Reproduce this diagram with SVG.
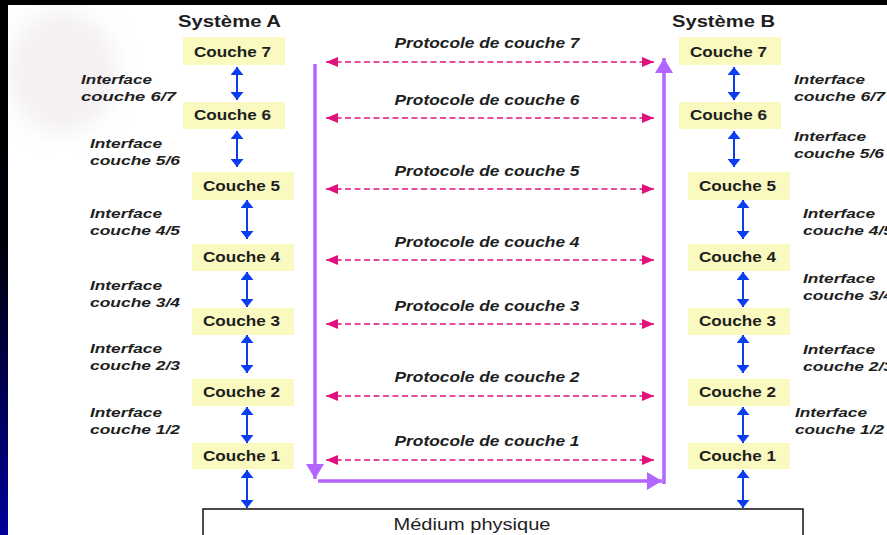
<svg xmlns="http://www.w3.org/2000/svg" width="887" height="535" viewBox="0 0 887 535">
  <defs>
    <linearGradient id="edgeGrad" x1="0" y1="0" x2="0" y2="1">
      <stop offset="0" stop-color="#000000"/>
      <stop offset="0.45" stop-color="#000008"/>
      <stop offset="1" stop-color="#00009a"/>
    </linearGradient>
    <filter id="soft" x="-50%" y="-50%" width="200%" height="200%">
      <feGaussianBlur stdDeviation="10"/>
    </filter>
    <marker id="blueHead" markerUnits="userSpaceOnUse" viewBox="0 0 8 13" markerWidth="8" markerHeight="13" refX="8" refY="6.5" orient="auto-start-reverse">
      <path d="M0,0 L8,6.5 L0,13 z" fill="#0a3cf0"/>
    </marker>
    <marker id="pinkHead" markerUnits="userSpaceOnUse" viewBox="0 0 12 10" markerWidth="12" markerHeight="10" refX="12" refY="5" orient="auto-start-reverse">
      <path d="M0,0 L12,5 L0,10 z" fill="#e0107c"/>
    </marker>
    <marker id="violetHead" markerUnits="userSpaceOnUse" viewBox="0 0 15 18" markerWidth="15" markerHeight="18" refX="15" refY="9" orient="auto">
      <path d="M0,0 L15,9 L0,18 z" fill="#b366ff"/>
    </marker>
  </defs>
  <style>
    .title { font-family: "Liberation Sans", Arial, sans-serif; font-weight: bold; font-size: 16px; fill: #1e1e1e; }
    .box { fill: #f9f9c0; }
    .layer { font-family: "Liberation Sans", Arial, sans-serif; font-weight: bold; font-size: 15px; fill: #1e1e1e; }
    .iface { font-family: "Liberation Sans", Arial, sans-serif; font-weight: bold; font-style: italic; font-size: 13.5px; fill: #1e1e1e; }
    .proto { font-family: "Liberation Sans", Arial, sans-serif; font-weight: bold; font-style: italic; font-size: 14px; fill: #1e1e1e; text-anchor: middle; }
    .medium { font-family: "Liberation Sans", Arial, sans-serif; font-size: 16px; fill: #1e1e1e; text-anchor: middle; }
    .blue { stroke: #0a3cf0; stroke-width: 2; fill: none; marker-start: url(#blueHead); marker-end: url(#blueHead); }
    .pink { stroke: #e0107c; stroke-width: 1.5; stroke-dasharray: 6 3.5; fill: none; marker-start: url(#pinkHead); marker-end: url(#pinkHead); }
    .violet { stroke: #b366ff; stroke-width: 3.5; fill: none; marker-end: url(#violetHead); }
  </style>

  <!-- page background and slide frame -->
  <rect x="0" y="0" width="887" height="535" fill="#ffffff"/>
  <ellipse cx="62" cy="72" rx="55" ry="62" fill="#f5f1f3" filter="url(#soft)"/>
  <rect x="0" y="0" width="887" height="5" fill="#000000"/>
  <rect x="0" y="0" width="8" height="535" fill="url(#edgeGrad)"/>

  <!-- system titles -->
  <text class="title" x="178" y="27" textLength="103" lengthAdjust="spacingAndGlyphs">Système A</text>
  <text class="title" x="672" y="27" textLength="103" lengthAdjust="spacingAndGlyphs">Système B</text>

  <!-- system A layers -->
  <g id="a-couche7"><rect class="box" x="183" y="37" width="102" height="28"/><text class="layer" x="194" y="57" textLength="77" lengthAdjust="spacingAndGlyphs">Couche 7</text></g>
  <g id="a-couche6"><rect class="box" x="183" y="102" width="102" height="27"/><text class="layer" x="194" y="120" textLength="77" lengthAdjust="spacingAndGlyphs">Couche 6</text></g>
  <g id="a-couche5"><rect class="box" x="192" y="172" width="102" height="28"/><text class="layer" x="203" y="191" textLength="77" lengthAdjust="spacingAndGlyphs">Couche 5</text></g>
  <g id="a-couche4"><rect class="box" x="192" y="244" width="102" height="27"/><text class="layer" x="203" y="262" textLength="77" lengthAdjust="spacingAndGlyphs">Couche 4</text></g>
  <g id="a-couche3"><rect class="box" x="192" y="308" width="102" height="27"/><text class="layer" x="203" y="326" textLength="77" lengthAdjust="spacingAndGlyphs">Couche 3</text></g>
  <g id="a-couche2"><rect class="box" x="192" y="379" width="102" height="27"/><text class="layer" x="203" y="397" textLength="77" lengthAdjust="spacingAndGlyphs">Couche 2</text></g>
  <g id="a-couche1"><rect class="box" x="192" y="443" width="102" height="26"/><text class="layer" x="203" y="461" textLength="77" lengthAdjust="spacingAndGlyphs">Couche 1</text></g>

  <!-- system B layers -->
  <g id="b-couche7"><rect class="box" x="679" y="37" width="102" height="28"/><text class="layer" x="690" y="57" textLength="77" lengthAdjust="spacingAndGlyphs">Couche 7</text></g>
  <g id="b-couche6"><rect class="box" x="679" y="102" width="102" height="27"/><text class="layer" x="690" y="120" textLength="77" lengthAdjust="spacingAndGlyphs">Couche 6</text></g>
  <g id="b-couche5"><rect class="box" x="688" y="172" width="102" height="28"/><text class="layer" x="699" y="191" textLength="77" lengthAdjust="spacingAndGlyphs">Couche 5</text></g>
  <g id="b-couche4"><rect class="box" x="688" y="244" width="102" height="27"/><text class="layer" x="699" y="262" textLength="77" lengthAdjust="spacingAndGlyphs">Couche 4</text></g>
  <g id="b-couche3"><rect class="box" x="688" y="308" width="102" height="27"/><text class="layer" x="699" y="326" textLength="77" lengthAdjust="spacingAndGlyphs">Couche 3</text></g>
  <g id="b-couche2"><rect class="box" x="688" y="379" width="102" height="27"/><text class="layer" x="699" y="397" textLength="77" lengthAdjust="spacingAndGlyphs">Couche 2</text></g>
  <g id="b-couche1"><rect class="box" x="688" y="443" width="102" height="26"/><text class="layer" x="699" y="461" textLength="77" lengthAdjust="spacingAndGlyphs">Couche 1</text></g>

  <!-- shared physical medium -->
  <g id="medium">
    <rect x="203" y="509" width="600" height="40" fill="#ffffff" stroke="#111111" stroke-width="1.5"/>
    <text class="medium" x="472" y="530" textLength="157" lengthAdjust="spacingAndGlyphs">Médium physique</text>
  </g>

  <!-- interface labels, system A -->
  <g id="a-interfaces">
    <text class="iface" x="81" y="84" textLength="71" lengthAdjust="spacingAndGlyphs">Interface</text>
    <text class="iface" x="81" y="101" textLength="95" lengthAdjust="spacingAndGlyphs">couche 6/7</text>
    <text class="iface" x="90" y="148" textLength="72" lengthAdjust="spacingAndGlyphs">Interface</text>
    <text class="iface" x="90" y="165" textLength="90" lengthAdjust="spacingAndGlyphs">couche 5/6</text>
    <text class="iface" x="90" y="218" textLength="72" lengthAdjust="spacingAndGlyphs">Interface</text>
    <text class="iface" x="90" y="235" textLength="90" lengthAdjust="spacingAndGlyphs">couche 4/5</text>
    <text class="iface" x="90" y="290" textLength="72" lengthAdjust="spacingAndGlyphs">Interface</text>
    <text class="iface" x="90" y="307" textLength="90" lengthAdjust="spacingAndGlyphs">couche 3/4</text>
    <text class="iface" x="90" y="353" textLength="72" lengthAdjust="spacingAndGlyphs">Interface</text>
    <text class="iface" x="90" y="370" textLength="90" lengthAdjust="spacingAndGlyphs">couche 2/3</text>
    <text class="iface" x="90" y="417" textLength="72" lengthAdjust="spacingAndGlyphs">Interface</text>
    <text class="iface" x="90" y="434" textLength="90" lengthAdjust="spacingAndGlyphs">couche 1/2</text>
  </g>

  <!-- interface labels, system B -->
  <g id="b-interfaces">
    <text class="iface" x="794" y="84" textLength="71" lengthAdjust="spacingAndGlyphs">Interface</text>
    <text class="iface" x="794" y="101" textLength="91" lengthAdjust="spacingAndGlyphs">couche 6/7</text>
    <text class="iface" x="794" y="141" textLength="72" lengthAdjust="spacingAndGlyphs">Interface</text>
    <text class="iface" x="794" y="158" textLength="90" lengthAdjust="spacingAndGlyphs">couche 5/6</text>
    <text class="iface" x="803" y="218" textLength="72" lengthAdjust="spacingAndGlyphs">Interface</text>
    <text class="iface" x="803" y="235" textLength="90" lengthAdjust="spacingAndGlyphs">couche 4/5</text>
    <text class="iface" x="803" y="283" textLength="72" lengthAdjust="spacingAndGlyphs">Interface</text>
    <text class="iface" x="803" y="300" textLength="90" lengthAdjust="spacingAndGlyphs">couche 3/4</text>
    <text class="iface" x="803" y="354" textLength="72" lengthAdjust="spacingAndGlyphs">Interface</text>
    <text class="iface" x="803" y="371" textLength="90" lengthAdjust="spacingAndGlyphs">couche 2/3</text>
    <text class="iface" x="795" y="417" textLength="72" lengthAdjust="spacingAndGlyphs">Interface</text>
    <text class="iface" x="795" y="434" textLength="89" lengthAdjust="spacingAndGlyphs">couche 1/2</text>
  </g>

  <!-- peer protocol labels -->
  <g id="protocols">
    <text class="proto" x="487" y="48" textLength="185" lengthAdjust="spacingAndGlyphs">Protocole de couche 7</text>
    <text class="proto" x="487" y="105" textLength="185" lengthAdjust="spacingAndGlyphs">Protocole de couche 6</text>
    <text class="proto" x="487" y="176" textLength="185" lengthAdjust="spacingAndGlyphs">Protocole de couche 5</text>
    <text class="proto" x="487" y="247" textLength="185" lengthAdjust="spacingAndGlyphs">Protocole de couche 4</text>
    <text class="proto" x="487" y="311" textLength="185" lengthAdjust="spacingAndGlyphs">Protocole de couche 3</text>
    <text class="proto" x="487" y="382" textLength="185" lengthAdjust="spacingAndGlyphs">Protocole de couche 2</text>
    <text class="proto" x="487" y="446" textLength="185" lengthAdjust="spacingAndGlyphs">Protocole de couche 1</text>
  </g>

  <g id="connectors">
    <!-- interfaces between adjacent layers, system A -->
    <line class="blue" x1="237" y1="67" x2="237" y2="100"/>
    <line class="blue" x1="237" y1="131" x2="237" y2="167"/>
    <line class="blue" x1="247" y1="200" x2="247" y2="239"/>
    <line class="blue" x1="247" y1="272" x2="247" y2="307"/>
    <line class="blue" x1="247" y1="335" x2="247" y2="373"/>
    <line class="blue" x1="247" y1="407" x2="247" y2="443"/>
    <line class="blue" x1="247" y1="470" x2="247" y2="508"/>
    <!-- interfaces between adjacent layers, system B -->
    <line class="blue" x1="734" y1="67" x2="734" y2="100"/>
    <line class="blue" x1="734" y1="131" x2="734" y2="167"/>
    <line class="blue" x1="743" y1="200" x2="743" y2="239"/>
    <line class="blue" x1="743" y1="272" x2="743" y2="307"/>
    <line class="blue" x1="743" y1="335" x2="743" y2="373"/>
    <line class="blue" x1="743" y1="407" x2="743" y2="443"/>
    <line class="blue" x1="743" y1="470" x2="743" y2="508"/>
    <!-- peer-to-peer protocols -->
    <line class="pink" x1="326" y1="62" x2="654" y2="62"/>
    <line class="pink" x1="326" y1="118" x2="654" y2="118"/>
    <line class="pink" x1="326" y1="189" x2="654" y2="189"/>
    <line class="pink" x1="326" y1="260" x2="654" y2="260"/>
    <line class="pink" x1="326" y1="324" x2="654" y2="324"/>
    <line class="pink" x1="326" y1="396" x2="654" y2="396"/>
    <line class="pink" x1="326" y1="460" x2="654" y2="460"/>
    <!-- actual data path: down A, across the medium, up B -->
    <line class="violet" x1="315" y1="64" x2="315" y2="479"/>
    <line class="violet" x1="318" y1="481" x2="662" y2="481"/>
    <line class="violet" x1="664" y1="484" x2="664" y2="58"/>
  </g>
</svg>
